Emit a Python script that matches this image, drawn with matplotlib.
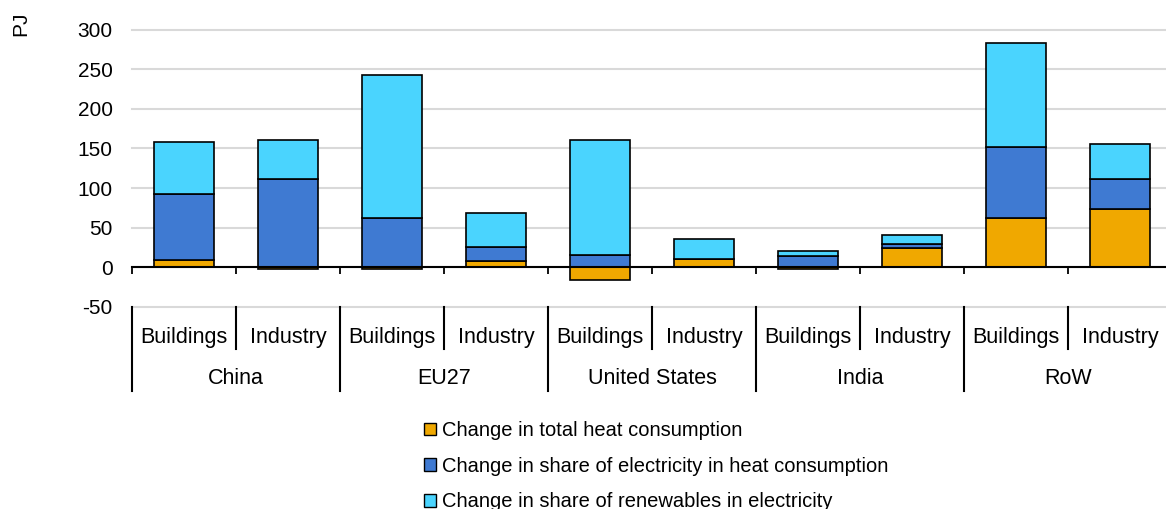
import matplotlib
matplotlib.use("Agg")
import matplotlib.pyplot as plt
from matplotlib.patches import Patch
from matplotlib.lines import Line2D
import numpy as np

plt.rcParams['font.family'] = ['Liberation Sans', 'DejaVu Sans']

# Categories
regions = ["China", "EU27", "United States", "India", "RoW"]
sectors = ["Buildings", "Industry"]

# Contributions per region/sector (PJ), order: China B, China I, EU27 B, EU27 I, ...
heat_total = [9.5, -2.5, -2.5, 8, -16, 10, -1.5, 24, 62, 74]
elec_share = [83, 112, 62, 18, 16, 0.5, 14, 5.5, 90, 37]
ren_share = [65, 49, 180, 43, 145, 25, 7, 11, 131, 45]

series_labels = ["Change in total heat consumption",
                 "Change in share of electricity in heat consumption",
                 "Change in share of renewables in electricity"]
series_colors = ["#F0A800", "#3F7AD2", "#4AD4FE"]

yticks = [-50, 0, 50, 100, 150, 200, 250, 300]

W, H = 1166, 509
fig = plt.figure(figsize=(W / 100, H / 100), dpi=100)

# axes box in pixels: x 132..1172, y(top-down) 29.5..307
left_px, right_px = 132, 1172
top_px, bot_px = 29.5, 307
ax = fig.add_axes([left_px / W, 1 - bot_px / H,
                   (right_px - left_px) / W, (bot_px - top_px) / H])

n = len(heat_total)
x = np.arange(n)
pos_base = np.zeros(n)
neg_base = np.zeros(n)
for vals, col, lab in zip([heat_total, elec_share, ren_share], series_colors, series_labels):
    v = np.array(vals, dtype=float)
    bottoms = np.where(v >= 0, pos_base, neg_base)
    ax.bar(x, v, width=0.57, bottom=bottoms, color=col, edgecolor="black",
           linewidth=1.2, label=lab, zorder=3)
    pos_base = pos_base + np.where(v >= 0, v, 0)
    neg_base = neg_base + np.where(v < 0, v, 0)

ax.set_xlim(-0.5, n - 0.5)
ax.set_ylim(-50, 300)
ax.set_yticks(yticks)
ax.set_yticklabels([str(t) for t in yticks])
ax.yaxis.grid(True, color="#d9d9d9", linewidth=1.5, zorder=0)
for gl in ax.get_ygridlines():
    gl.set_clip_on(False)
ax.set_axisbelow(True)

for s in ["top", "right", "left"]:
    ax.spines[s].set_visible(False)
ax.spines["bottom"].set_position(("data", 0))
ax.spines["bottom"].set_linewidth(1.5)
ax.spines["bottom"].set_zorder(4)
ax.set_xticks(np.arange(-0.5, n, 1.0))
ax.set_xticklabels([])
ax.tick_params(axis="x", direction="out", length=5, width=1.3, color="black")
ax.tick_params(axis="y", length=0, pad=14, labelsize=15, labelcolor="black")

# Two-level category labels below the plot area
axh = bot_px - top_px
def ay(px):
    return (bot_px - px) / axh

tr = ax.get_xaxis_transform()
for i in range(n):
    ax.text(x[i], ay(338), sectors[i % 2], transform=tr, ha="center",
            va="center", fontsize=15.5)
for g, name in enumerate(regions):
    ax.text(2 * g + 0.5, ay(378.5), name, transform=tr, ha="center",
            va="center", fontsize=15.5)
for b in np.arange(-0.5, n, 1.0):
    idx = int(b + 0.5)
    low = ay(391) if idx % 2 == 0 else ay(349)
    ax.add_line(Line2D([b, b], [0, low], transform=tr, color="black",
                       linewidth=1.5, clip_on=False))

# Unit label
fig.text(21 / W, 1 - 24 / H, "PJ", rotation=90, ha="center", va="center",
         fontsize=15)

# Legend
handles = [Patch(facecolor=c, edgecolor="black", linewidth=1.0) for c in series_colors]
fig.legend(handles, series_labels, loc="upper left",
           bbox_to_anchor=(424 / W, 1 - 421 / H), frameon=False, fontsize=14.5,
           handlelength=0.6, handleheight=0.6, handletextpad=0.28,
           labelspacing=0.83, borderpad=0, borderaxespad=0)

fig.savefig("out.png", dpi=100)
